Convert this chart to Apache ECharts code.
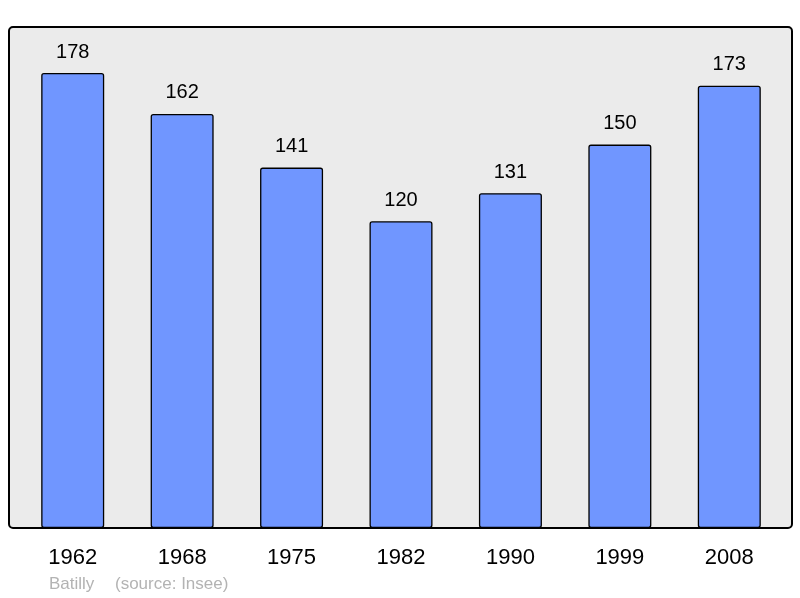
<!DOCTYPE html>
<html>
<head>
<meta charset="utf-8">
<script src="https://cdn.jsdelivr.net/npm/echarts@6/dist/echarts.min.js"></script>
<style>
  html, body { margin: 0; padding: 0; background: #fff; }
  #chart { width: 800px; height: 598px; }
</style>
</head>
<body>
<div id="chart"></div>
<script>
// population per census year
var years = ['1962', '1968', '1975', '1982', '1990', '1999', '2008'];
var population = [178, 162, 141, 120, 131, 150, 173];
var footerName = 'Batilly';
var footerSource = '(source: Insee)';

var chart = echarts.init(document.getElementById('chart'));

var option = {
    animation: false,
    grid: {
        left: 18,
        right: 16,
        top: 27,
        bottom: 70
    },
    graphic: [{
        type: 'rect',
        z: -10,
        shape: { x: 9, y: 27, width: 783, height: 501, r: 4 },
        style: { fill: '#ebebeb', stroke: '#000', lineWidth: 2 }
    }, {
        type: 'text',
        left: 49,
        top: 576,
        style: { text: footerName, fill: '#b3b3b3', font: '17px "Liberation Sans", Arial, sans-serif' }
    }, {
        type: 'text',
        left: 115,
        top: 576,
        style: { text: footerSource, fill: '#b3b3b3', font: '17px "Liberation Sans", Arial, sans-serif' }
    }],
    xAxis: {
        type: 'category',
        data: years,
        axisLine: { show: false },
        axisTick: { show: false },
        axisLabel: {
            color: '#000',
            fontSize: 22,
            fontFamily: 'Liberation Sans',
            margin: 19
        }
    },
    yAxis: {
        type: 'value',
        min: 0,
        max: 196,
        show: false,
        splitLine: { show: false }
    },
    series: [{
        type: 'bar',
        data: population,
        barWidth: 63,
        itemStyle: {
            color: '#7096ff',
            borderColor: '#000',
            borderWidth: 1.3,
            borderRadius: 2
        },
        label: {
            show: true,
            position: 'top',
            distance: 11,
            color: '#000',
            fontSize: 20,
            fontFamily: 'Liberation Sans'
        }
    }]
};

chart.setOption(option);
</script>
</body>
</html>
